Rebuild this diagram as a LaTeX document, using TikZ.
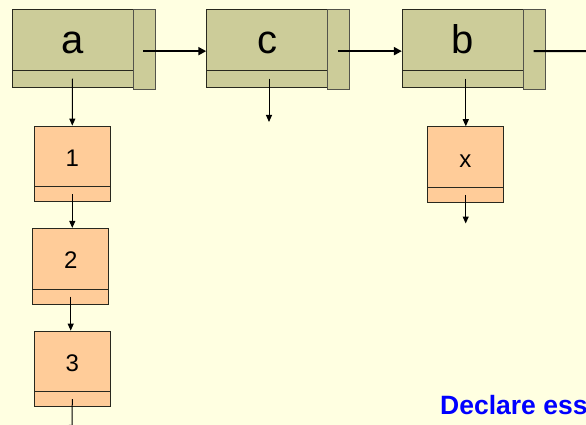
\documentclass[tikz,border=0pt]{standalone}
\usepackage{fontspec}
\setmainfont{Liberation Sans}
\usetikzlibrary{arrows.meta}
\definecolor{bgc}{RGB}{255,255,225}
\definecolor{olive}{RGB}{204,204,153}
\definecolor{peach}{RGB}{255,204,153}
\definecolor{edge}{RGB}{40,40,30}
\tikzset{
  cell/.style={draw=edge, line width=0.9pt, fill=olive, inner sep=0pt, minimum width=121pt, minimum height=60.7pt, text height=27.3pt, text depth=0pt, font=\fontsize{40}{44}\selectfont},
  strip/.style={draw=edge, line width=0.9pt, fill=olive, inner sep=0pt, minimum width=121pt, minimum height=17.3pt},
  side/.style={draw=edge!80, line width=0.9pt, fill=olive, inner sep=0pt, minimum width=22pt, minimum height=79.7pt},
  lcell/.style={draw=edge, line width=0.8pt, fill=peach, inner sep=0pt, minimum width=76pt, minimum height=60.7pt, text height=19.6pt, text depth=0pt, font=\fontsize{24}{28}\selectfont},
  lstrip/.style={draw=edge, line width=0.8pt, fill=peach, inner sep=0pt, minimum width=76pt, minimum height=15pt},
  harrow/.style={line width=2pt, -{Triangle[length=8pt,width=8pt]}},
  varrow/.style={line width=1pt, -{Triangle[length=7pt,width=6pt]}},
}
\begin{document}
\begin{tikzpicture}[x=1pt,y=-1pt]
\useasboundingbox (0,0) rectangle (586,425);
\clip (0,0) rectangle (586,425);
\fill[bgc] (0,0) rectangle (586,425);
% top row
\node[cell] (a) at (72.5,39.65) {a};
\node[strip] (as) at (72.5,78.65) {};
\node[side] (aside) at (144,49.15) {};
\node[cell] (c) at (267.2,39.65) {c};
\node[strip] (cs) at (267.2,78.65) {};
\node[side] (cside) at (338.85,49.15) {};
\node[cell] (b) at (462.8,39.65) {b};
\node[strip] (bs) at (462.8,78.65) {};
\node[side] (bside) at (534.5,49.15) {};
% list under a
\node[lcell] (n1) at (72.3,156.35) {1};
\node[lstrip] (n1s) at (72.3,194.2) {};
\node[lcell] (n2) at (70.7,258.65) {2};
\node[lstrip] (n2s) at (70.7,296.5) {};
\node[lcell] (n3) at (72.3,361.35) {3};
\node[lstrip] (n3s) at (72.3,399.2) {};
% list under b
\node[lcell, minimum width=75.3pt, text height=20.6pt] (nx) at (465.35,157) {x};
\node[lstrip, minimum width=75.3pt] (nxs) at (465.35,194.8) {};
% free ends
\coordinate (cend) at (269,122);
\coordinate (bend) at (600,51);
\coordinate (xend) at (465.7,223.5);
\coordinate (n3end) at (72,432);
% horizontal arrows
\draw[harrow] ([xshift=-1pt,yshift=-2pt]aside.center) -- ([yshift=-2pt]aside.center -| c.west);
\draw[harrow] ([xshift=-1pt,yshift=-2pt]cside.center) -- ([yshift=-2pt]cside.center -| b.west);
\draw[harrow] ([xshift=-1pt,yshift=-2pt]bside.center) -- (bend);
% vertical arrows
\draw[varrow] (as.center) -- (n1.north);
\draw[varrow] (cs.center -| cend) -- (cend);
\draw[varrow] ([xshift=3pt]bs.center) -- ([xshift=3pt]bs.center |- nx.north);
\draw[varrow] (n1s.center) -- (n2.north -| n1s.center);
\draw[varrow] (n2s.center) -- (n3.north -| n2s.center);
\draw[varrow] (n3s.center) -- (n3end);
\draw[varrow] (nxs.center -| xend) -- (xend);
% text
\node[anchor=base west, inner sep=0pt, text=blue, font=\bfseries\fontsize{26.5}{30}\selectfont] (decl) at (440,414.3) {Declare ess};
\end{tikzpicture}
\end{document}
